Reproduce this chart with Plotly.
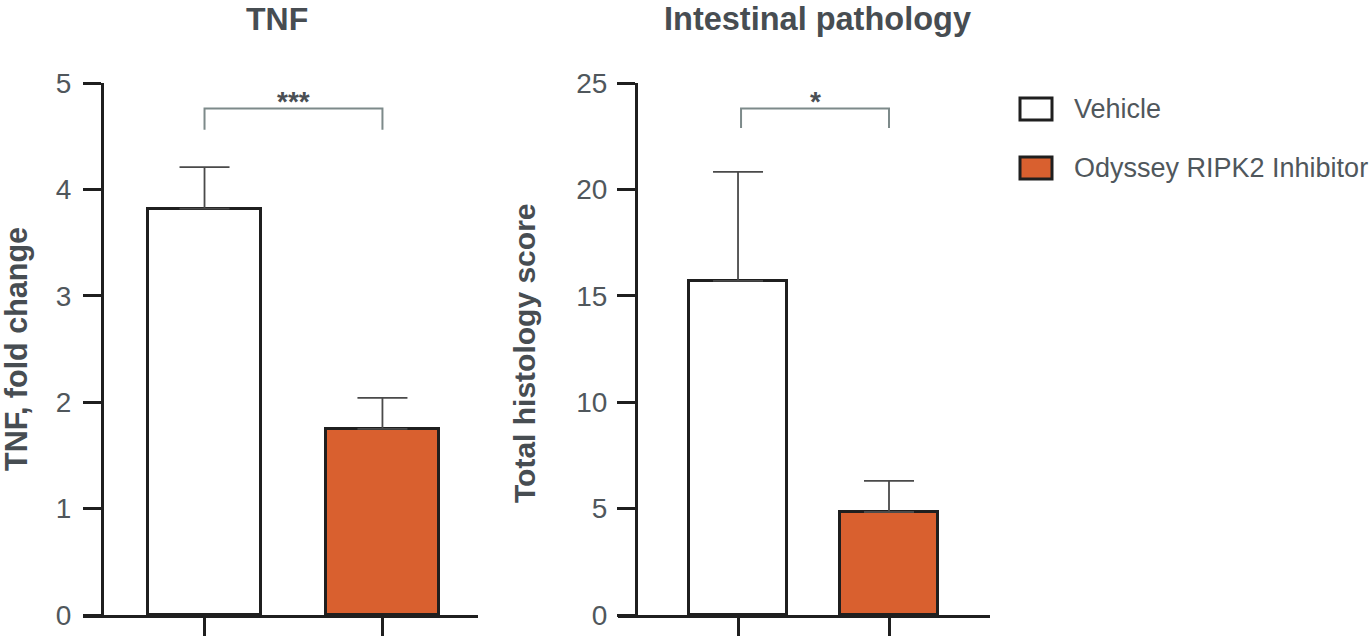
import plotly.graph_objects as go

W, H = 1372, 639

groups = ["Vehicle", "Odyssey RIPK2 Inhibitor"]
tnf_mean = [3.82, 1.75]
tnf_sem = [0.39, 0.29]
hist_mean = [15.7, 4.84]
hist_sem = [5.12, 1.46]
tnf_ticks = [0, 1, 2, 3, 4, 5]
hist_ticks = [0, 5, 10, 15, 20, 25]
titles = ["TNF", "Intestinal pathology"]
ytitles = ["TNF, fold change", "Total histology score"]
sig = ["***", "*"]

fills = ["#ffffff", "#d9602f"]
dark = "#1f1f1f"
txt = "#50575c"
ttl = "#474d52"
FONT = "Liberation Sans, Arial, sans-serif"

def px(x):
    return x / W

def py(y):
    return 1 - y / H

fig = go.Figure()

pos = [0, 1]
fig.add_trace(go.Bar(
    x=pos, y=tnf_mean, width=0.63, xaxis="x", yaxis="y",
    marker=dict(color=fills, line=dict(color=dark, width=3)),
    error_y=dict(type="data", array=tnf_sem, arrayminus=[0, 0], symmetric=False,
                 color="#4a4a4a", thickness=1.8, width=25),
    showlegend=False, hoverinfo="skip"))
fig.add_trace(go.Bar(
    x=pos, y=hist_mean, width=0.649, xaxis="x2", yaxis="y2",
    marker=dict(color=fills, line=dict(color=dark, width=3)),
    error_y=dict(type="data", array=hist_sem, arrayminus=[0, 0], symmetric=False,
                 color="#4a4a4a", thickness=1.8, width=25),
    showlegend=False, hoverinfo="skip"))

ydom = [py(615), py(83)]
axcommon = dict(showgrid=False, zeroline=False, showline=True, linecolor=dark, linewidth=3,
                ticks="outside", ticklen=18, tickwidth=3, tickcolor=dark, fixedrange=True,
                automargin=False)
fig.update_layout(
    width=W, height=H, margin=dict(l=0, r=0, t=0, b=0, autoexpand=False),
    paper_bgcolor="white", plot_bgcolor="white",
    font=dict(family=FONT, color=txt),
    bargap=0,
    xaxis=dict(domain=[px(83), px(478)], range=[-0.683, 1.537], anchor="y",
               tickvals=pos, showticklabels=False, **axcommon),
    xaxis2=dict(domain=[px(618), px(990)], range=[-0.795, 1.669], anchor="y2",
                tickvals=pos, showticklabels=False, **axcommon),
    yaxis=dict(domain=ydom, range=[0, 5], anchor="free", position=px(102),
               tickvals=tnf_ticks, tickfont=dict(size=28, color=txt),
               ticklabelstandoff=6, **axcommon),
    yaxis2=dict(domain=ydom, range=[0, 25], anchor="free", position=px(636),
                tickvals=hist_ticks, tickfont=dict(size=28, color=txt),
                ticklabelstandoff=4, **axcommon),
)

# significance brackets
brk = "#7d8a8a"
fig.add_shape(type="path", xref="x", yref="y", path="M 0,4.56 L 0,4.76 L 1,4.76 L 1,4.56",
              line=dict(color=brk, width=2))
fig.add_shape(type="path", xref="x2", yref="y2", path="M 0.02,22.88 L 0.02,23.8 L 1,23.8 L 1,22.88",
              line=dict(color=brk, width=2))
fig.add_annotation(x=0.5, y=4.83, xref="x", yref="y", text="<b>%s</b>" % sig[0], showarrow=False,
                   font=dict(size=28, color="#4a4f54", family=FONT), yanchor="middle")
fig.add_annotation(x=0.51, y=24.15, xref="x2", yref="y2", text="<b>%s</b>" % sig[1], showarrow=False,
                   font=dict(size=28, color="#4a4f54", family=FONT), yanchor="middle")

# titles
fig.add_annotation(x=px(277), y=1.0, xref="paper", yref="paper", text="<b>%s</b>" % titles[0],
                   showarrow=False, font=dict(size=32, color=ttl), xanchor="center", yanchor="top",
                   borderpad=0)
fig.add_annotation(x=px(817), y=1.0, xref="paper", yref="paper", text="<b>%s</b>" % titles[1],
                   showarrow=False, font=dict(size=32.5, color=ttl), xanchor="center", yanchor="top",
                   borderpad=0)
# y-axis titles
fig.add_annotation(x=px(16), y=py(349), xref="paper", yref="paper", text="<b>%s</b>" % ytitles[0],
                   textangle=-90, showarrow=False, font=dict(size=30.5, color=ttl),
                   xanchor="center", yanchor="middle")
fig.add_annotation(x=px(524), y=py(353), xref="paper", yref="paper", text="<b>%s</b>" % ytitles[1],
                   textangle=-90, showarrow=False, font=dict(size=30, color=ttl),
                   xanchor="center", yanchor="middle")

# legend (drawn manually for large swatches)
leg_y = [109, 168]
for g, c, yc in zip(groups, fills, leg_y):
    fig.add_shape(type="rect", xref="paper", yref="paper",
                  x0=px(1020), x1=px(1052), y0=py(yc - 11), y1=py(yc + 11),
                  fillcolor=c, line=dict(color=dark, width=3))
    fig.add_annotation(x=px(1072), y=py(yc), xref="paper", yref="paper", text=g,
                       showarrow=False, font=dict(size=27, color=txt),
                       xanchor="left", yanchor="middle")

fig.write_html("out.html")
